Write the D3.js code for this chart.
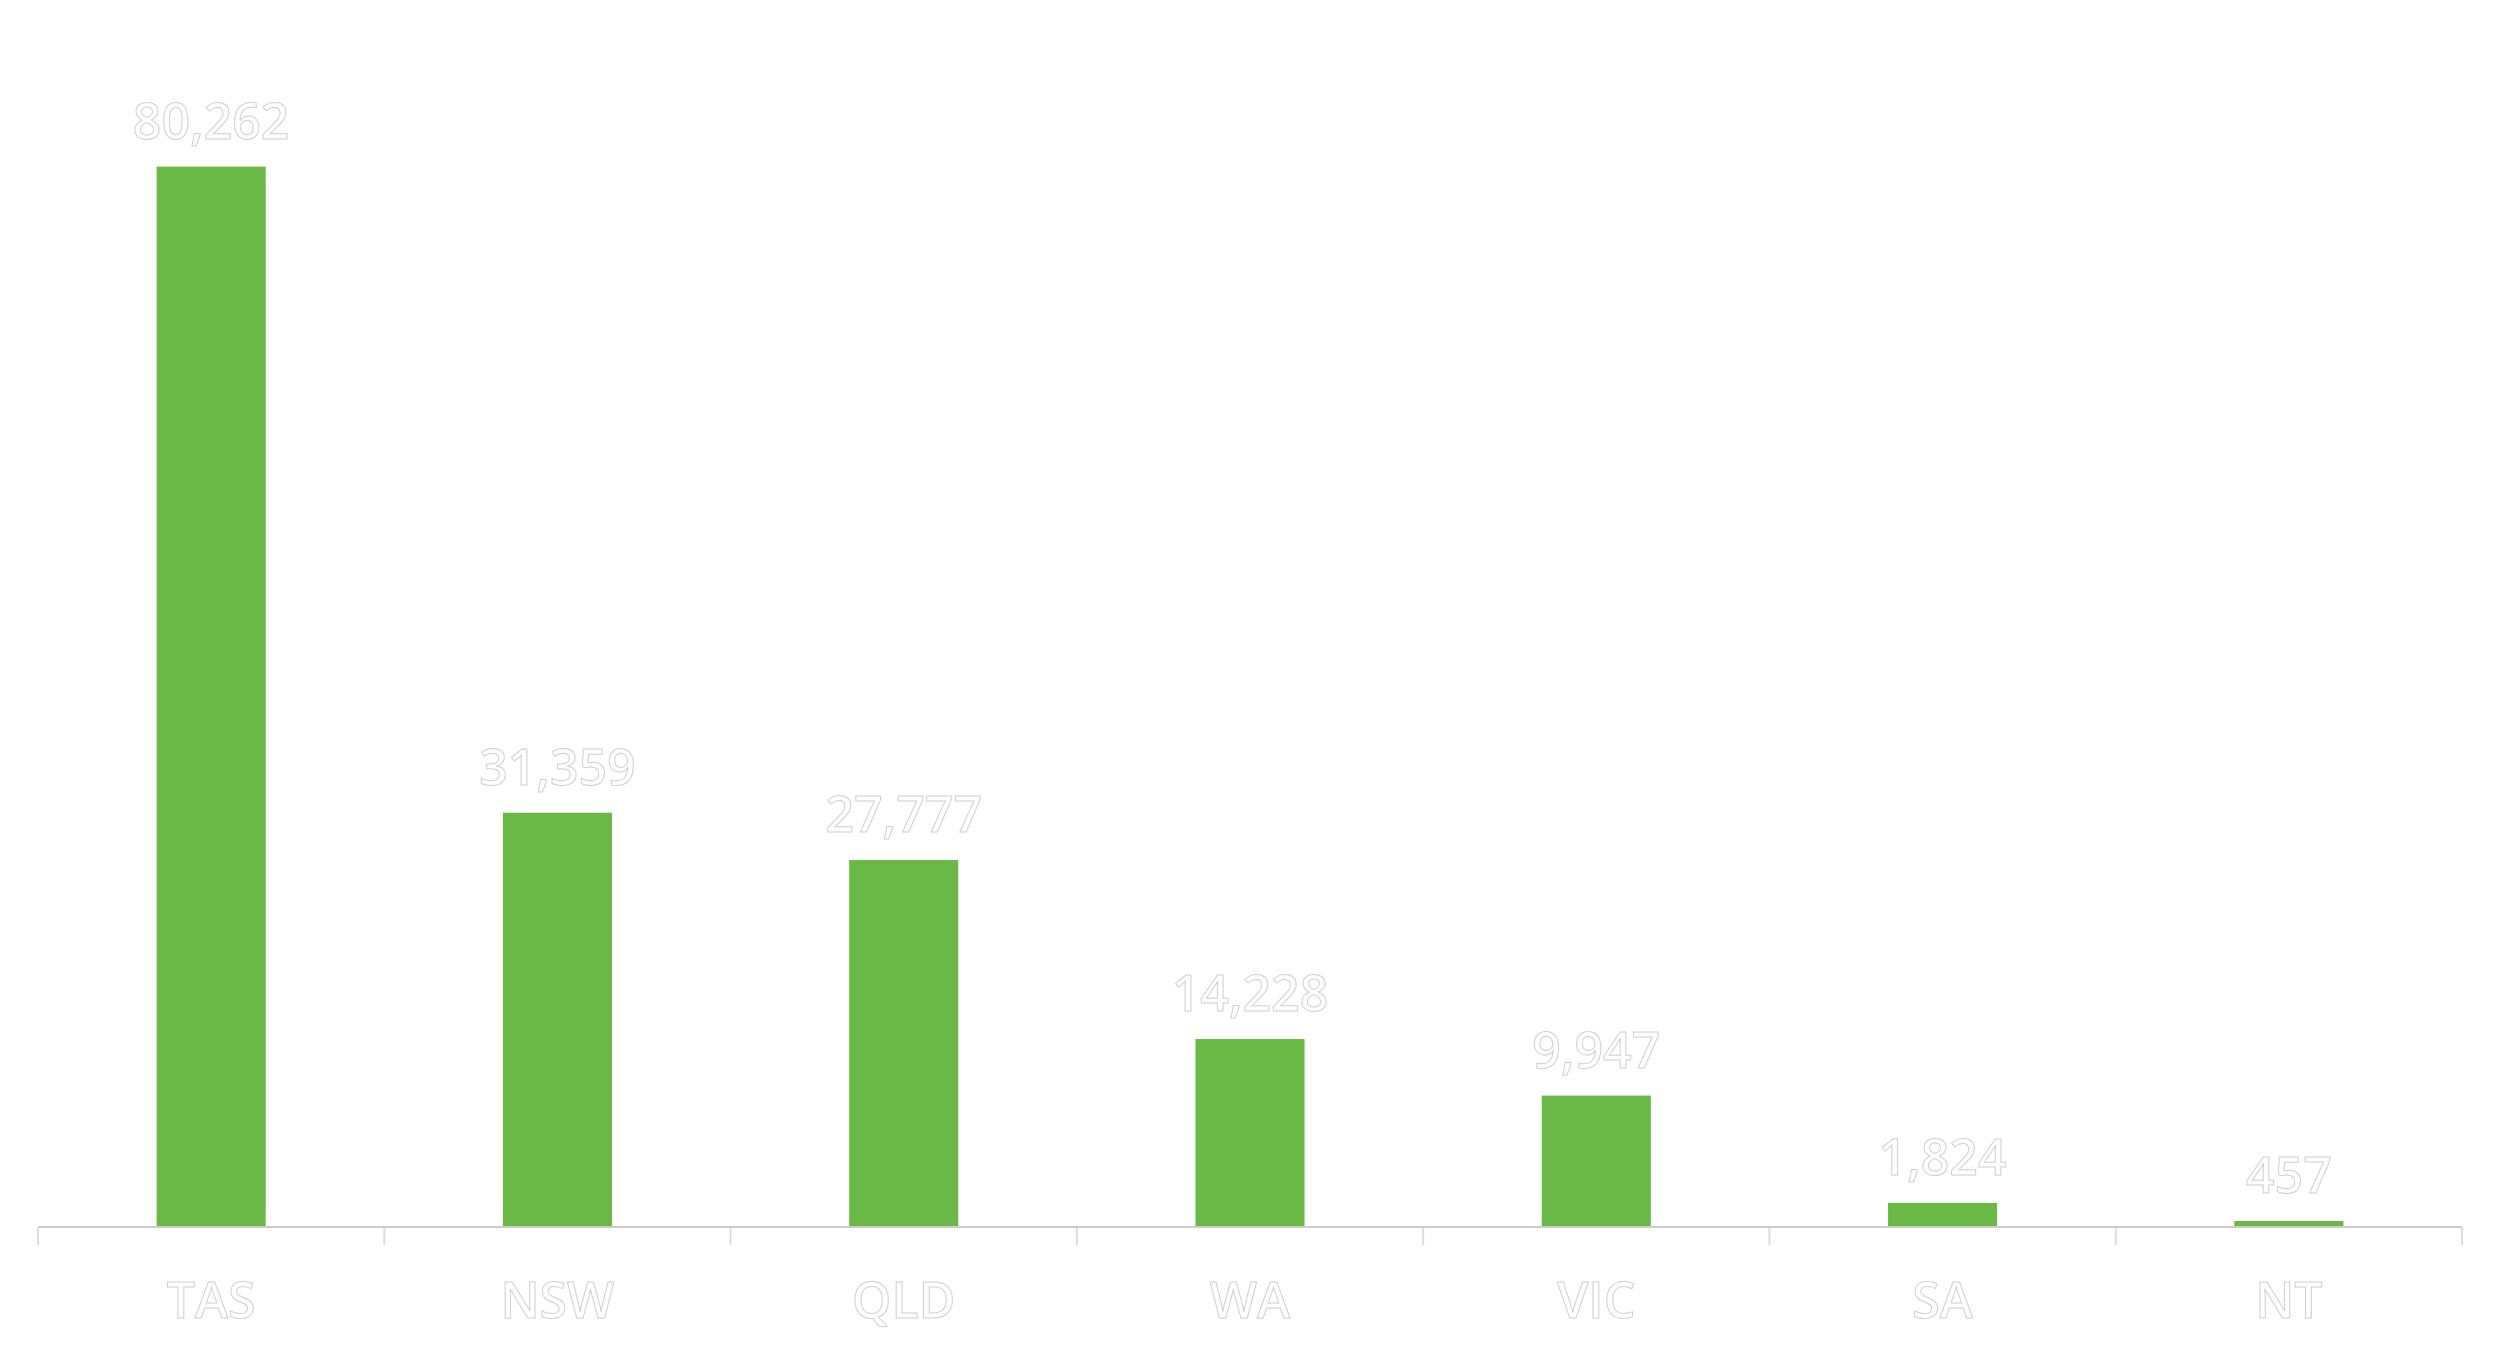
<!DOCTYPE html>
<html>
<head>
<meta charset="utf-8">
<script src="https://cdn.jsdelivr.net/npm/d3@7"></script>
<style>
  html, body { margin: 0; padding: 0; background: #ffffff; }
  svg { display: block; }
  text { font-family: "Open Sans", sans-serif; font-weight: 600; }
</style>
</head>
<body>
<svg id="chart" width="2500" height="1354"></svg>
<script>
const categories = ["TAS", "NSW", "QLD", "WA", "VIC", "SA", "NT"];
const values = [80262, 31359, 27777, 14228, 9947, 1824, 457];
const yDomain = [0, 90000];

const W = 2500, H = 1354;
const margin = { left: 38, right: 38, top: 38, bottom: 127 };
const svg = d3.select("#chart");

const x = d3.scaleBand()
  .domain(categories)
  .range([margin.left, W - margin.right])
  .paddingInner(0.685)
  .paddingOuter(0.3425);

const xAxisScale = d3.scaleBand()
  .domain(categories)
  .range([margin.left, W - margin.right])
  .padding(0);

const y = d3.scaleLinear()
  .domain(yDomain)
  .range([H - margin.bottom, margin.top]);

const baseY = y(0);

// bars
svg.append("g")
  .selectAll("rect")
  .data(values)
  .join("rect")
  .attr("x", (d, i) => x(categories[i]))
  .attr("y", d => y(d))
  .attr("width", x.bandwidth())
  .attr("height", d => baseY - y(d))
  .attr("fill", "#6ab946");

// axis line
const axisG = svg.append("g");
axisG.append("line")
  .attr("x1", margin.left).attr("x2", W - margin.right)
  .attr("y1", baseY).attr("y2", baseY)
  .attr("stroke", "#cccccc").attr("stroke-width", 2);

// tick boundaries between categories
const tickPositions = categories.map(c => xAxisScale(c)).concat([xAxisScale.range()[1]]);
axisG.selectAll("line.tick")
  .data(tickPositions)
  .join("line")
  .attr("class", "tick")
  .attr("x1", d => d).attr("x2", d => d)
  .attr("y1", baseY + 1).attr("y2", baseY + 18)
  .attr("stroke", "#dddddd").attr("stroke-width", 2);

// category labels
svg.append("g")
  .selectAll("text")
  .data(categories)
  .join("text")
  .attr("x", d => xAxisScale(d) + xAxisScale.bandwidth() / 2)
  .attr("y", baseY + 91)
  .attr("text-anchor", "middle")
  .attr("font-size", 50)
  .attr("fill", "#ffffff")
  .attr("stroke", "#d0d0d0")
  .attr("stroke-width", 1)
  .text(d => d);

// value labels
const fmt = d3.format(",");
svg.append("g")
  .selectAll("text")
  .data(values)
  .join("text")
  .attr("x", (d, i) => x(categories[i]) + x.bandwidth() / 2)
  .attr("y", d => y(d) - 28)
  .attr("text-anchor", "middle")
  .attr("font-size", 50)
  .attr("fill", "#ffffff")
  .attr("stroke", "#d0d0d0")
  .attr("stroke-width", 1)
  .text(d => fmt(d));
</script>
</body>
</html>
